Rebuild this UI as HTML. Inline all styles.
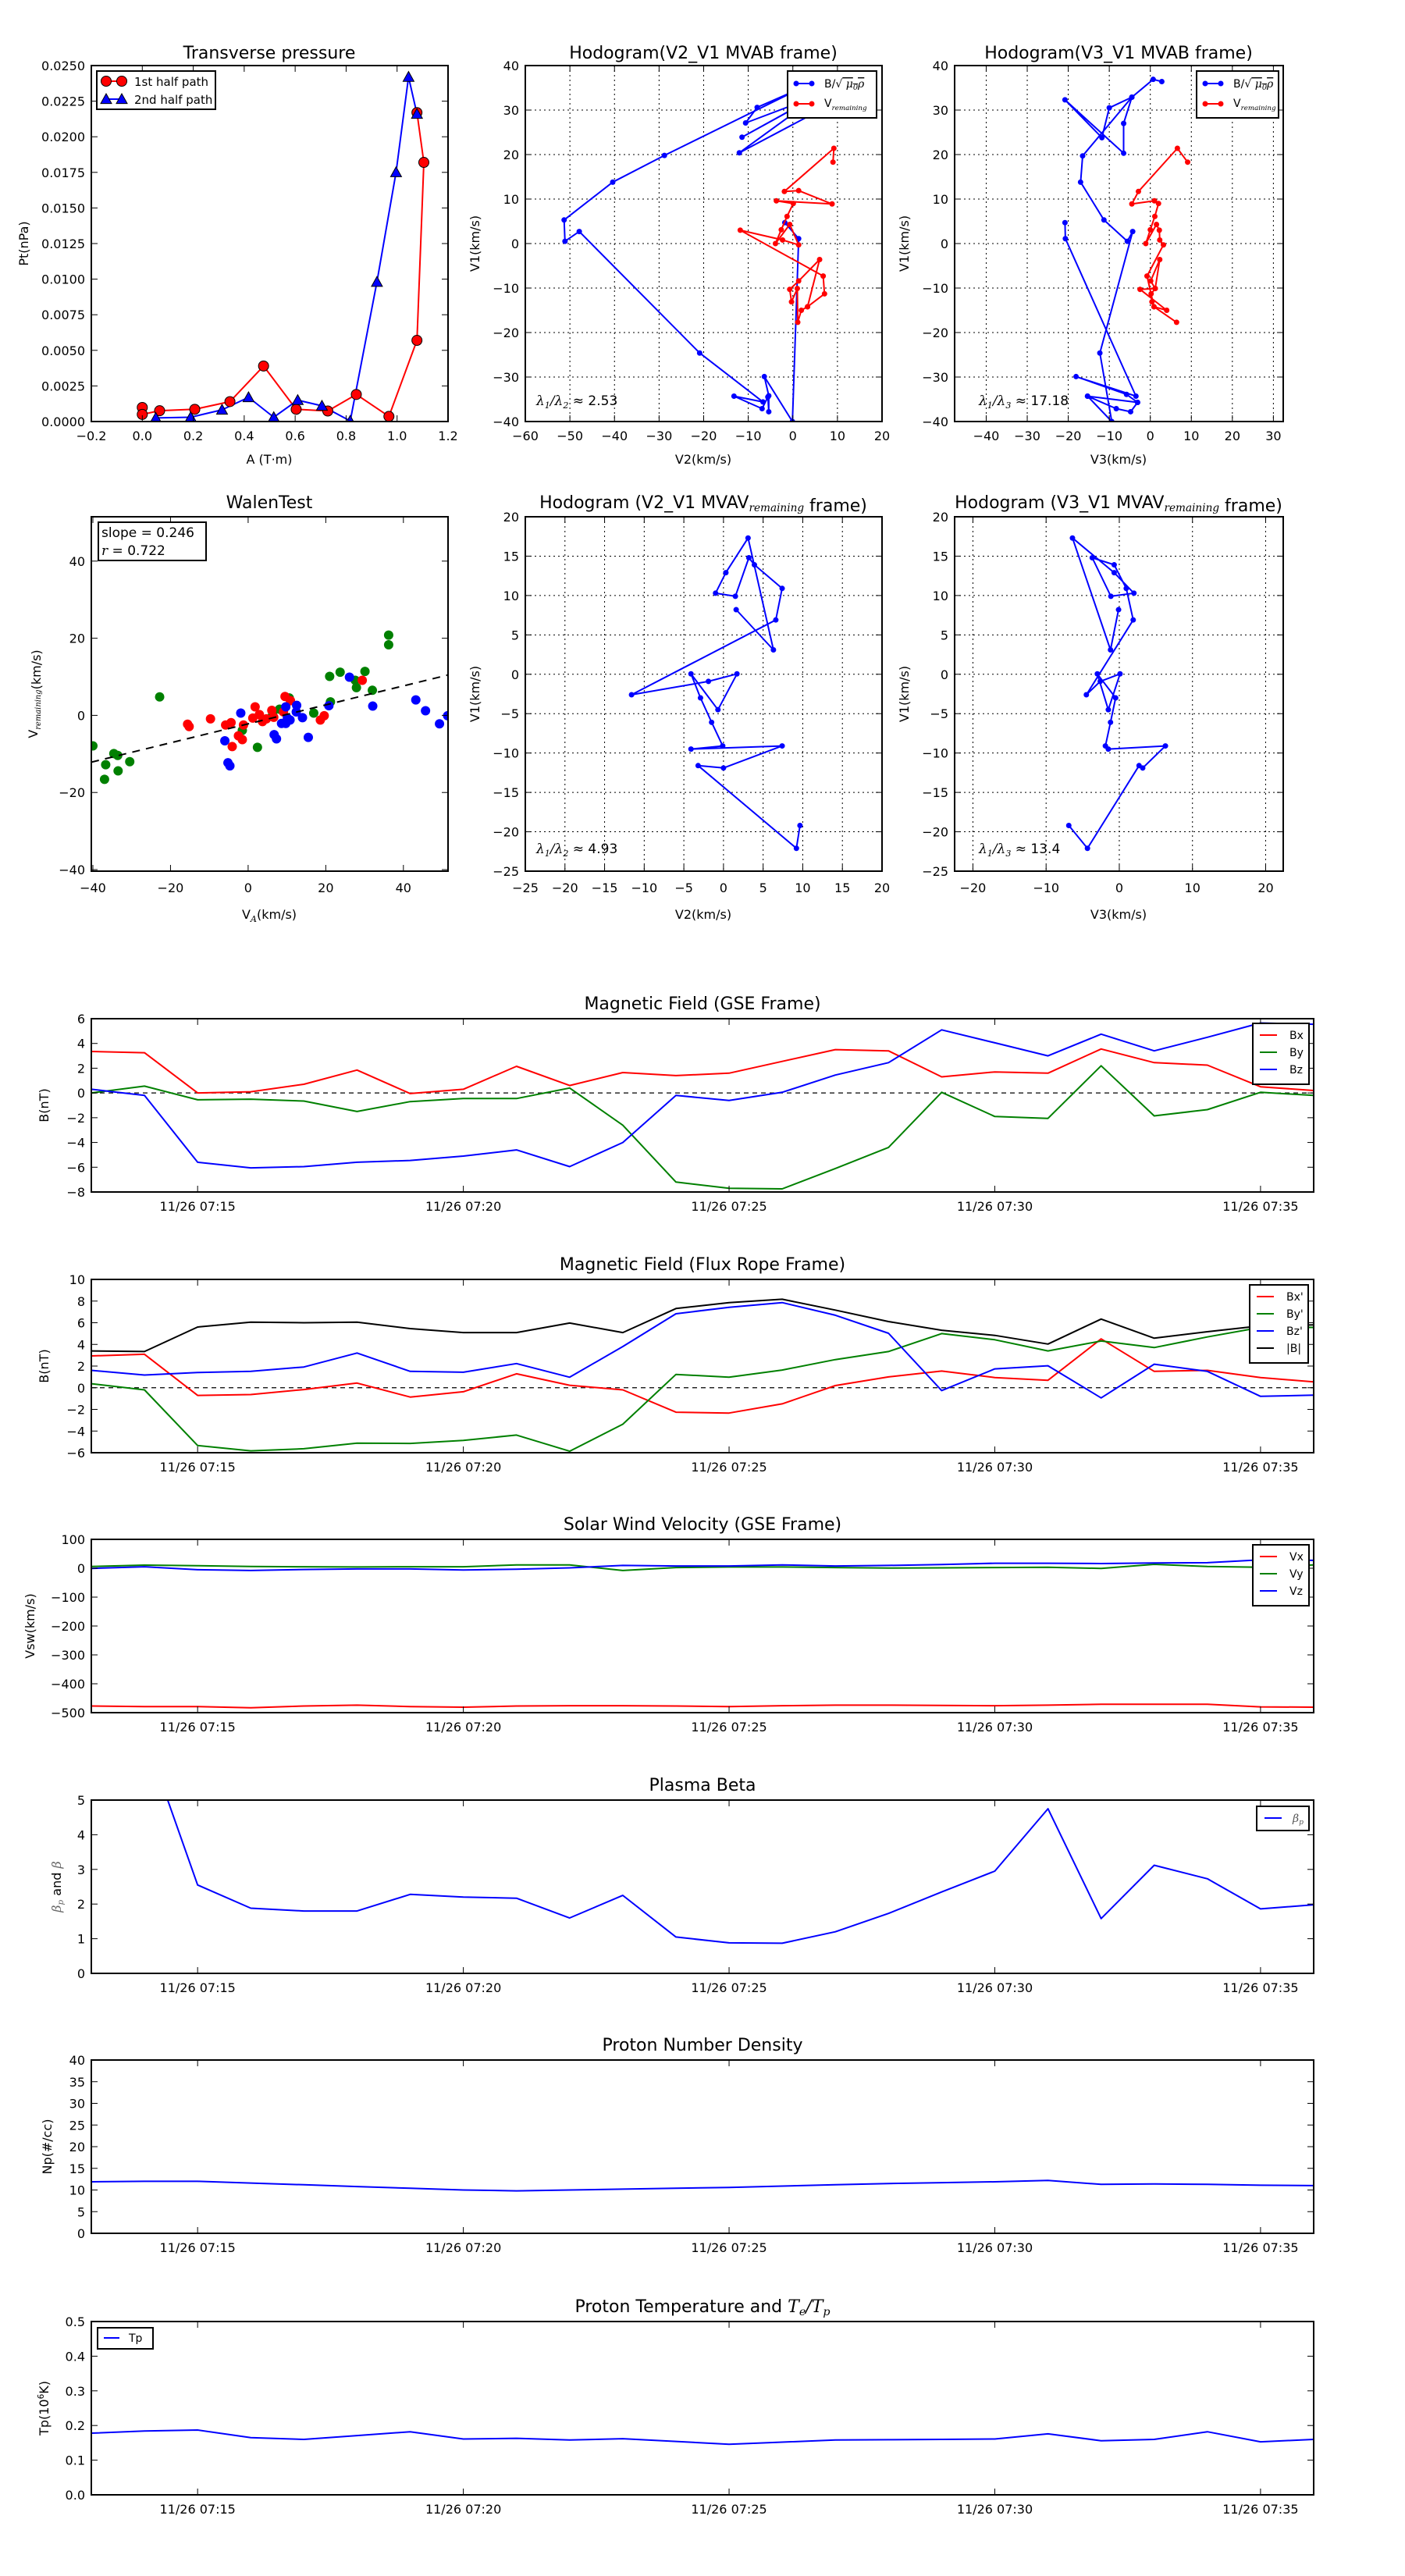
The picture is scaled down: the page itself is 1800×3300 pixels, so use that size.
<!DOCTYPE html>
<html><head><meta charset="utf-8"><title>Flux rope analysis</title>
<style>
html,body{margin:0;padding:0;background:#fff;}
svg{display:block;font-family:"DejaVu Sans","Liberation Sans",sans-serif;}
</style></head>
<body>
<svg id="fig" xmlns="http://www.w3.org/2000/svg" width="1800" height="3300" viewBox="0 0 1800 3300">
<rect x="0" y="0" width="1800" height="3300" fill="#fff"/>
<defs id="defs"></defs>
</svg>
<script>
// ---------------- data ----------------
const tp1A = [0, 0, 0.068, 0.206, 0.344, 0.476, 0.604, 0.728, 0.84, 0.968, 1.078, 1.105, 1.078];
const tp1P = [0.00099, 0.0005, 0.00076, 0.00086, 0.0014, 0.0039, 0.00086, 0.00074, 0.0019, 0.00036, 0.0057, 0.0182, 0.0217];
const tp2A = [0.053, 0.19, 0.313, 0.417, 0.516, 0.61, 0.705, 0.816, 0.921, 0.996, 1.045, 1.078];
const tp2P = [0.00025, 0.0003, 0.00082, 0.0017, 0.0003, 0.0015, 0.0011, 0.00004, 0.0098, 0.0175, 0.0242, 0.0216];
const h1BV2 = [-1.8, 1.3, -0.1, -6.4, -5.4, -5.4, -5.6, -6.9, -13.2, -6.7, -20.9, -47.9, -51.1, -51.3, -40.4, -28.8, 2, -8, -10.6, 5, -11.4, 6, -12, 8];
const h1BV1 = [4.7, 1.1, -40, -29.9, -34.2, -37.8, -34.5, -37.1, -34.3, -35.6, -24.6, 2.7, 0.5, 5.3, 13.8, 19.8, 35, 30.6, 27.1, 33, 23.9, 33.5, 20.4, 31];
const h1RV2 = [9, 9.2, -1.9, 1.3, 8.8, -3.7, 0.1, -1.3, -2.6, -3.9, -0.7, 1.3, -2.3, -11.8, 6.8, 7.1, 3.3, 1.9, 1.1, 1, -0.3, -0.7, 1.3, 6, 3.3];
const h1RV1 = [18.3, 21.4, 11.7, 11.9, 8.9, 9.6, 9.0, 6.1, 3.1, 0, 4.3, -0.3, 0.8, 3.0, -7.3, -11.3, -14.2, -15, -17.7, -10.1, -13.1, -10.3, -8.4, -3.6, -14.2];
const h2BV3 = [-20.8, -20.7, -3.5, -18.1, -5.8, -3.1, -15.3, -8.3, -4.8, -3.1, -15.3, -9.4, -12.3, -4.3, -5.6, -11.3, -17, -16.5, -4.5, -6.5, -6.5, -20.8, -11.8, -10, -4.5, 0.7, 2.8];
const h2BV1 = [4.7, 1.1, -34.3, -29.9, -33.9, -35.7, -34.3, -37.1, -37.8, -35.7, -34.3, -40, -24.6, 2.7, 0.5, 5.3, 13.8, 19.7, 32.9, 27, 20.3, 32.3, 23.8, 30.5, 32.9, 36.9, 36.4];
const h2RV3 = [9.1, 6.6, -2.9, -4.5, 1, 2, 1.1, 0, -1.1, 1.5, 2.2, 2.3, 3.2, -0.8, 0.9, 4, -2.5, 1.2, 0.1, 2.3, 1.2, 0.2, 0.4, 0.9, 6.4];
const h2RV1 = [18.3, 21.4, 11.7, 8.9, 9.6, 9, 6.1, 3.1, 0, 4.3, 3, 0.8, -0.3, -7.3, -14.2, -15, -10.3, -10.1, -8.4, -3.6, -10.1, -11.3, -13.1, -14.2, -17.7];
const walGx = [-40, -36.7, -37, -34.6, -33.6, -33.5, -30.5, -22.8, -1.5, 2.4, 6.3, 8.1, 10.6, 16.9, 21, 21.2, 23.7, 27.6, 27.9, 30.1, 32, 36.2, 36.2];
const walGy = [-7.9, -12.8, -16.6, -9.9, -10.4, -14.4, -12, 4.8, -3.9, -8.3, 0.2, 1.6, 4.5, 0.6, 10.1, 3.5, 11.2, 9.1, 7.2, 11.4, 6.5, 20.8, 18.3];
const walRx = [-15.6, -15.2, -9.7, -5.8, -4.4, -4.1, -2.5, -1.5, -1.2, 1.2, 1.8, 2.9, 3.7, 4.7, 6.1, 6.6, 9.5, 9.1, 10.9, 18.6, 19.6, 29.4];
const walRy = [-2.3, -2.9, -0.9, -2.5, -1.9, -8.1, -5.3, -6.3, -2.5, -0.7, 2.2, 0.2, -1.6, -0.9, 1.3, -0.5, 4.9, 0.9, 3.8, -1.2, -0.1, 9.1];
const walBx = [-1.9, -6, -5.2, -4.7, 6.7, 7.3, 8.6, 9.7, 9.7, 10.8, 10.1, 12.4, 12.5, 14, 15.5, 20.8, 26.1, 32.1, 43.2, 45.7, 49.3, 51.4];
const walBy = [0.6, -6.6, -12.3, -13.1, -5, -6.1, -2.1, -2.1, 2.2, -1.2, -0.7, 0.9, 2.6, -0.6, -5.7, 2.5, 9.9, 2.4, 4, 1.2, -2.2, -0.1];
const walSlope = 0.246;
const walIntercept = -2.2;
const mvV1 = [8.2, 3.1, 17.3, 12.9, 10.3, 9.9, 14.8, 13.9, 10.9, 6.9, -2.6, -0.9, 0.05, -4.5, 0.05, -3, -6.1, -9.1, -9.5, -9.1, -11.9, -11.6, -22.1, -19.2];
const mvV2 = [1.6, 6.3, 3.1, 0.3, -1, 1.5, 3.2, 3.9, 7.4, 6.6, -11.6, -1.9, 1.7, -0.7, -4.1, -2.9, -1.5, -0.1, -4.1, 7.4, 0, -3.2, 9.2, 9.65];
const mvV3 = [-0.1, -1.2, -6.4, -0.7, 2, -1.15, -3.7, -0.7, 0.95, 1.9, -4.5, -2.6, 0.1, -1.5, -3, -0.5, -1.2, -1.9, -1.5, 6.3, 3.2, 2.7, -4.35, -6.9];
const minutes = [13,14,15,16,17,18,19,20,21,22,23,24,25,26,27,28,29,30,31,32,33,34,35,36];
const tickMinutes = [15,20,25,30,35];
const tickLabels = ["11/26 07:15","11/26 07:20","11/26 07:25","11/26 07:30","11/26 07:35"];
const Bx = [3.35,3.25,0.0,0.1,0.7,1.85,-0.05,0.3,2.15,0.6,1.65,1.4,1.6,2.55,3.5,3.4,1.3,1.7,1.6,3.55,2.45,2.25,0.5,0.2];
const By = [0.0,0.55,-0.55,-0.5,-0.65,-1.5,-0.7,-0.45,-0.45,0.4,-2.6,-7.2,-7.7,-7.75,-6.1,-4.4,0.05,-1.9,-2.05,2.2,-1.85,-1.35,0.05,-0.2];
const Bz = [0.3,-0.2,-5.6,-6.05,-5.95,-5.6,-5.45,-5.1,-4.6,-5.95,-4.0,-0.2,-0.6,0.05,1.45,2.45,5.1,4.05,3.0,4.75,3.4,4.5,5.65,5.55];
const BxF = [2.94,3.09,-0.71,-0.63,-0.17,0.43,-0.86,-0.37,1.29,0.23,-0.2,-2.26,-2.34,-1.49,0.2,1.0,1.54,0.94,0.69,4.51,1.51,1.6,0.94,0.54];
const ByF = [0.37,-0.2,-5.34,-5.83,-5.63,-5.11,-5.14,-4.86,-4.37,-5.86,-3.37,1.23,0.97,1.63,2.6,3.34,5.0,4.43,3.4,4.31,3.71,4.69,5.57,5.57];
const BzF = [1.6,1.17,1.4,1.51,1.91,3.2,1.51,1.43,2.23,0.97,3.8,6.83,7.43,7.86,6.69,5.03,-0.26,1.74,2.03,-0.94,2.17,1.51,-0.8,-0.69];
const Bmag = [3.4,3.34,5.6,6.06,6.0,6.06,5.46,5.09,5.09,5.97,5.09,7.31,7.86,8.17,7.17,6.11,5.31,4.83,4.03,6.34,4.57,5.17,5.71,5.8];
const Vx = [-477,-479,-479,-483,-477,-474,-479,-481,-477,-476,-476,-477,-479,-476,-474,-474,-475,-476,-474,-471,-471,-471,-480,-481];
const Vy = [6,10.7,8.8,6,5.1,4.2,5.1,5.1,11.6,11.6,-7.9,2.3,4.2,4.2,2.3,0.5,1.4,2.3,3.3,-0.5,13.5,6,3.3,11.6];
const Vz = [-0.5,5.1,-5.1,-7.9,-4.2,-2.3,-2.3,-6,-3.3,1.4,9.8,7.9,7.9,11.6,7.9,9.8,12.6,17.2,17.2,16.3,18.1,19.1,29.3,27.4];
const betaP = [10,6.9,2.55,1.88,1.8,1.8,2.28,2.2,2.17,1.6,2.25,1.05,0.88,0.87,1.2,1.73,2.35,2.95,4.75,1.58,3.12,2.73,1.86,1.98];
const Np = [11.9,12.0,12.0,11.6,11.2,10.8,10.4,10.0,9.8,10.0,10.2,10.4,10.6,10.9,11.2,11.5,11.7,11.9,12.2,11.3,11.4,11.3,11.1,11.0];
const Tp = [0.178,0.184,0.187,0.165,0.16,0.171,0.182,0.161,0.163,0.158,0.162,0.154,0.146,0.152,0.158,0.159,0.160,0.161,0.176,0.156,0.160,0.182,0.153,0.160];

// ---------------- helpers ----------------
const NS = 'http://www.w3.org/2000/svg';
const svg = document.getElementById('fig');
const defs = document.getElementById('defs');
let clipN = 0;
function mk(parent, tag, attrs, name, text) {
  const el = document.createElementNS(NS, tag);
  for (const k in attrs) el.setAttribute(k, attrs[k]);
  
  
  if (text != null) el.textContent = text;
  parent.appendChild(el);
  return el;
}
function fmtNum(v, d) { const s = Math.abs(v).toFixed(d); return (v < -1e-12 ? '\u2212' : '') + s; }
function rng(a, b, s) { const r = []; for (let v = a; v <= b + s * 1e-6; v += s) r.push(+v.toFixed(6)); return r; }

function axes(o) {
  const g = mk(svg, 'g', {}, o.name);
  const sx = v => o.x0 + (v - o.xmin) / (o.xmax - o.xmin) * o.w;
  const sy = v => o.y0 + o.h - (v - o.ymin) / (o.ymax - o.ymin) * o.h;
  const id = 'clip' + (clipN++);
  const cp = mk(defs, 'clipPath', {id: id}, 'clip-region');
  mk(cp, 'rect', {x: o.x0, y: o.y0, width: o.w, height: o.h}, 'clip-rect');
  const grid = mk(g, 'g', {}, 'grid');
  const data = mk(g, 'g', {'clip-path': 'url(#' + id + ')'}, 'plot-area');
  const over = mk(g, 'g', {}, 'axes-overlay');
  const xt = o.xticks.filter(v => v >= o.xmin - 1e-9 && v <= o.xmax + 1e-9);
  const yt = o.yticks.filter(v => v >= o.ymin - 1e-9 && v <= o.ymax + 1e-9);
  if (o.grid) {
    xt.forEach(v => mk(grid, 'line', {x1: sx(v), x2: sx(v), y1: o.y0, y2: o.y0 + o.h, stroke: '#000', 'stroke-width': 1, 'stroke-dasharray': '2,4'}, 'x-grid-line'));
    yt.forEach(v => mk(grid, 'line', {x1: o.x0, x2: o.x0 + o.w, y1: sy(v), y2: sy(v), stroke: '#000', 'stroke-width': 1, 'stroke-dasharray': '2,4'}, 'y-grid-line'));
  }
  xt.forEach((v, i) => {
    mk(over, 'line', {x1: sx(v), x2: sx(v), y1: o.y0 + o.h, y2: o.y0 + o.h - 8, stroke: '#000', 'stroke-width': 1}, 'x-tick');
    mk(over, 'line', {x1: sx(v), x2: sx(v), y1: o.y0, y2: o.y0 + 8, stroke: '#000', 'stroke-width': 1}, 'x-tick-top');
    const lab = o.xlabels ? o.xlabels[i] : o.xfmt(v);
    mk(over, 'text', {x: sx(v), y: o.y0 + o.h + (o.xlabGap || 24), 'text-anchor': 'middle', 'font-size': 16}, 'x-tick-label', lab);
  });
  yt.forEach(v => {
    mk(over, 'line', {x1: o.x0, x2: o.x0 + 8, y1: sy(v), y2: sy(v), stroke: '#000', 'stroke-width': 1}, 'y-tick');
    mk(over, 'line', {x1: o.x0 + o.w, x2: o.x0 + o.w - 8, y1: sy(v), y2: sy(v), stroke: '#000', 'stroke-width': 1}, 'y-tick-right');
    mk(over, 'text', {x: o.x0 - 8, y: sy(v) + 6, 'text-anchor': 'end', 'font-size': 16}, 'y-tick-label', o.yfmt(v));
  });
  mk(over, 'rect', {x: o.x0, y: o.y0, width: o.w, height: o.h, fill: 'none', stroke: '#000', 'stroke-width': 2}, 'axes-frame');
  return {g, sx, sy, data, over};
}
function polyline(ax, xs, ys, color, name, w) {
  const pts = xs.map((x, i) => ax.sx(x).toFixed(1) + ',' + ax.sy(ys[i]).toFixed(1)).join(' ');
  return mk(ax.data, 'polyline', {points: pts, fill: 'none', stroke: color, 'stroke-width': w || 2, 'stroke-linejoin': 'round'}, name);
}
function dots(ax, xs, ys, color, r, name, edge) {
  xs.forEach((x, i) => {
    const a = {cx: ax.sx(x), cy: ax.sy(ys[i]), r: r, fill: color};
    if (edge) { a.stroke = '#000'; a['stroke-width'] = 1; }
    mk(ax.data, 'circle', a, name);
  });
}
function tris(ax, xs, ys, color, s, name) {
  xs.forEach((x, i) => {
    const cx = ax.sx(x), cy = ax.sy(ys[i]);
    mk(ax.data, 'polygon', {points: `${cx},${cy - s} ${cx - s},${cy + s * 0.8} ${cx + s},${cy + s * 0.8}`, fill: color, stroke: '#000', 'stroke-width': 1}, name);
  });
}
function title(x, y, html, name) {
  const t = mk(svg, 'text', {x: x, y: y, 'text-anchor': 'middle', 'font-size': 22}, name);
  t.innerHTML = html;
  return t;
}
function label(x, y, html, name, rot, size) {
  const a = {x: x, y: y, 'text-anchor': 'middle', 'font-size': size || 16};
  if (rot) a.transform = `rotate(-90 ${x} ${y})`;
  const t = mk(svg, 'text', a, name);
  t.innerHTML = html;
  return t;
}
const SUBREM = '<tspan font-family="DejaVu Serif, Liberation Serif, serif" font-style="italic" font-size="0.62em" dy="4">remaining</tspan><tspan dy="-4"></tspan>';
const SQRTLAB = 'B/\u221A<tspan font-family="DejaVu Serif, Liberation Serif, serif" font-style="italic" text-decoration="overline">\u00A0\u03BC<tspan font-size="0.7em" dy="3">0</tspan><tspan dy="-3">\u03C1</tspan></tspan>';

// ---------------- Transverse pressure ----------------
{
  const ax = axes({name: 'transverse-pressure-chart', x0: 117, y0: 84, w: 457, h: 456, xmin: -0.2, xmax: 1.2, ymin: 0, ymax: 0.025,
    xticks: rng(-0.2, 1.2, 0.2), yticks: rng(0, 0.025, 0.0025), xfmt: v => fmtNum(v, 1), yfmt: v => fmtNum(v, 4)});
  polyline(ax, tp1A, tp1P, '#f00', 'first-half-path-line');
  polyline(ax, tp2A, tp2P, '#00f', 'second-half-path-line');
  dots(ax, tp1A, tp1P, '#f00', 6.5, 'first-half-path-marker', true);
  tris(ax, tp2A, tp2P, '#00f', 7, 'second-half-path-marker');
  title(345, 75, 'Transverse pressure', 'transverse-pressure-title');
  label(345, 594, 'A (T\u00B7m)', 'x-axis-title');
  label(36, 312, 'Pt(nPa)', 'y-axis-title', true);
  const lg = mk(ax.over, 'g', {}, 'legend');
  mk(lg, 'rect', {x: 124, y: 91, width: 152, height: 49, fill: '#fff', stroke: '#000', 'stroke-width': 2}, 'legend-box');
  mk(lg, 'line', {x1: 136, x2: 156, y1: 104, y2: 104, stroke: '#f00', 'stroke-width': 2}, 'legend-line');
  mk(lg, 'circle', {cx: 136, cy: 104, r: 6.5, fill: '#f00', stroke: '#000'}, 'legend-marker');
  mk(lg, 'circle', {cx: 156, cy: 104, r: 6.5, fill: '#f00', stroke: '#000'}, 'legend-marker');
  mk(lg, 'text', {x: 172, y: 110, 'font-size': 15}, 'legend-entry', '1st half path');
  mk(lg, 'line', {x1: 136, x2: 156, y1: 127, y2: 127, stroke: '#00f', 'stroke-width': 2}, 'legend-line');
  mk(lg, 'polygon', {points: '136,120 129,132.6 143,132.6', fill: '#00f', stroke: '#000'}, 'legend-marker');
  mk(lg, 'polygon', {points: '156,120 149,132.6 163,132.6', fill: '#00f', stroke: '#000'}, 'legend-marker');
  mk(lg, 'text', {x: 172, y: 133, 'font-size': 15}, 'legend-entry', '2nd half path');
}

function hodoLegend(ax, x, y, w) {
  const lg = mk(ax.over, 'g', {}, 'legend');
  mk(lg, 'rect', {x: x, y: y, width: w, height: 60, fill: '#fff', stroke: '#000', 'stroke-width': 2}, 'legend-box');
  mk(lg, 'line', {x1: x + 11, x2: x + 31, y1: y + 16, y2: y + 16, stroke: '#00f', 'stroke-width': 2}, 'legend-line');
  mk(lg, 'circle', {cx: x + 11, cy: y + 16, r: 3.5, fill: '#00f'}, 'legend-marker');
  mk(lg, 'circle', {cx: x + 31, cy: y + 16, r: 3.5, fill: '#00f'}, 'legend-marker');
  const t1 = mk(lg, 'text', {x: x + 47, y: y + 21, 'font-size': 14}, 'legend-entry');
  t1.innerHTML = SQRTLAB;
  mk(lg, 'line', {x1: x + 11, x2: x + 31, y1: y + 42, y2: y + 42, stroke: '#f00', 'stroke-width': 2}, 'legend-line');
  mk(lg, 'circle', {cx: x + 11, cy: y + 42, r: 3.5, fill: '#f00'}, 'legend-marker');
  mk(lg, 'circle', {cx: x + 31, cy: y + 42, r: 3.5, fill: '#f00'}, 'legend-marker');
  const t2 = mk(lg, 'text', {x: x + 47, y: y + 46, 'font-size': 14}, 'legend-entry');
  t2.innerHTML = 'V' + SUBREM;
}
function lamText(x, y, sub, val) {
  const t = mk(svg, 'text', {x: x, y: y, 'font-size': 17}, 'eigenvalue-ratio');
  t.innerHTML = '<tspan font-family="DejaVu Serif, Liberation Serif, serif" font-style="italic">\u03BB<tspan font-size="0.65em" dy="4">1</tspan><tspan dy="-4">/\u03BB</tspan><tspan font-size="0.65em" dy="4">' + sub + '</tspan></tspan><tspan dy="-4"> \u2248 ' + val + '</tspan>';
}

{
  const ax = axes({name: 'hodogram-v2-v1-mvab', x0: 673, y0: 84, w: 457, h: 456, xmin: -60, xmax: 20, ymin: -40, ymax: 40, grid: true,
    xticks: rng(-60, 20, 10), yticks: rng(-40, 40, 10), xfmt: v => fmtNum(v, 0), yfmt: v => fmtNum(v, 0)});
  polyline(ax, h1BV2, h1BV1, '#00f', 'b-alfven-path');
  dots(ax, h1BV2, h1BV1, '#00f', 3.5, 'b-alfven-point');
  polyline(ax, h1RV2, h1RV1, '#f00', 'v-remaining-path');
  dots(ax, h1RV2, h1RV1, '#f00', 3.5, 'v-remaining-point');
  hodoLegend(ax, 1009, 91, 114);
  title(901, 75, 'Hodogram(V2_V1 MVAB frame)', 'hodogram-v2-v1-title');
  label(901, 594, 'V2(km/s)', 'x-axis-title');
  label(614, 312, 'V1(km/s)', 'y-axis-title', true);
  lamText(687, 519, '2', '2.53');
}
{
  const ax = axes({name: 'hodogram-v3-v1-mvab', x0: 1223, y0: 84, w: 421, h: 456, xmin: -47.7, xmax: 32.4, ymin: -40, ymax: 40, grid: true,
    xticks: rng(-40, 30, 10), yticks: rng(-40, 40, 10), xfmt: v => fmtNum(v, 0), yfmt: v => fmtNum(v, 0)});
  polyline(ax, h2BV3, h2BV1, '#00f', 'b-alfven-path');
  dots(ax, h2BV3, h2BV1, '#00f', 3.5, 'b-alfven-point');
  polyline(ax, h2RV3, h2RV1, '#f00', 'v-remaining-path');
  dots(ax, h2RV3, h2RV1, '#f00', 3.5, 'v-remaining-point');
  hodoLegend(ax, 1533, 91, 105);
  title(1433, 75, 'Hodogram(V3_V1 MVAB frame)', 'hodogram-v3-v1-title');
  label(1433, 594, 'V3(km/s)', 'x-axis-title');
  label(1164, 312, 'V1(km/s)', 'y-axis-title', true);
  lamText(1254, 519, '3', '17.18');
}
{
  const ax = axes({name: 'walen-test-chart', x0: 117, y0: 662, w: 457, h: 454, xmin: -40.4, xmax: 51.5, ymin: -40.4, ymax: 51.5,
    xticks: rng(-40, 40, 20), yticks: rng(-40, 40, 20), xfmt: v => fmtNum(v, 0), yfmt: v => fmtNum(v, 0), xlabGap: 27});
  dots(ax, walGx, walGy, '#008000', 6, 'walen-point-green');
  dots(ax, walRx, walRy, '#f00', 6, 'walen-point-red');
  dots(ax, walBx, walBy, '#00f', 6, 'walen-point-blue');
  const xa = -40.4, xb = 51.5;
  mk(ax.data, 'line', {x1: ax.sx(xa), y1: ax.sy(walSlope * xa + walIntercept), x2: ax.sx(xb), y2: ax.sy(walSlope * xb + walIntercept), stroke: '#000', 'stroke-width': 2, 'stroke-dasharray': '10,8'}, 'regression-line');
  mk(ax.over, 'rect', {x: 126, y: 669, width: 138, height: 49, fill: '#fff', stroke: '#000', 'stroke-width': 2}, 'stats-box');
  mk(ax.over, 'text', {x: 130, y: 688, 'font-size': 17}, 'slope-text', 'slope = 0.246');
  const rt = mk(ax.over, 'text', {x: 130, y: 711, 'font-size': 17}, 'r-text');
  rt.innerHTML = '<tspan font-family="DejaVu Serif, Liberation Serif, serif" font-style="italic">r</tspan> = 0.722';
  title(345, 651, 'WalenTest', 'walen-test-title');
  label(345, 1177, 'V<tspan font-family="DejaVu Serif, serif" font-style="italic" font-size="0.7em" dy="4">A</tspan><tspan dy="-4">(km/s)</tspan>', 'x-axis-title');
  label(48, 889, 'V' + SUBREM + '(km/s)', 'y-axis-title', true);
}
{
  const ax = axes({name: 'hodogram-v2-v1-mvav', x0: 673, y0: 662, w: 457, h: 454, xmin: -25, xmax: 20, ymin: -25, ymax: 20, grid: true,
    xticks: rng(-25, 20, 5), yticks: rng(-25, 20, 5), xfmt: v => fmtNum(v, 0), yfmt: v => fmtNum(v, 0), xlabGap: 27});
  polyline(ax, mvV2, mvV1, '#00f', 'hodogram-path');
  dots(ax, mvV2, mvV1, '#00f', 3.5, 'hodogram-point');
  title(901, 651, 'Hodogram (V2_V1 MVAV' + SUBREM + ' frame)', 'hodogram-mvav-v2-title');
  label(901, 1177, 'V2(km/s)', 'x-axis-title');
  label(614, 889, 'V1(km/s)', 'y-axis-title', true);
  lamText(687, 1093, '2', '4.93');
}
{
  const ax = axes({name: 'hodogram-v3-v1-mvav', x0: 1223, y0: 662, w: 421, h: 454, xmin: -22.5, xmax: 22.4, ymin: -25, ymax: 20, grid: true,
    xticks: rng(-20, 20, 10), yticks: rng(-25, 20, 5), xfmt: v => fmtNum(v, 0), yfmt: v => fmtNum(v, 0), xlabGap: 27});
  polyline(ax, mvV3, mvV1, '#00f', 'hodogram-path');
  dots(ax, mvV3, mvV1, '#00f', 3.5, 'hodogram-point');
  title(1433, 651, 'Hodogram (V3_V1 MVAV' + SUBREM + ' frame)', 'hodogram-mvav-v3-title');
  label(1433, 1177, 'V3(km/s)', 'x-axis-title');
  label(1164, 889, 'V1(km/s)', 'y-axis-title', true);
  lamText(1254, 1093, '3', '13.4');
}

function timeAxes(name, top, ymin, ymax, yticks, yfmt) {
  return axes({name: name, x0: 117, y0: top, w: 1566, h: 222, xmin: minutes[0], xmax: minutes[minutes.length - 1], ymin: ymin, ymax: ymax,
    xticks: tickMinutes, xlabels: tickLabels, yticks: yticks, xfmt: v => '', yfmt: yfmt, xlabGap: 24});
}
function tsLegend(ax, x, y, w, entries) {
  const lg = mk(ax.over, 'g', {}, 'legend');
  mk(lg, 'rect', {x: x, y: y, width: w, height: 12 + entries.length * 22, fill: '#fff', stroke: '#000', 'stroke-width': 2}, 'legend-box');
  entries.forEach((e, i) => {
    const cy = y + 15 + i * 22;
    mk(lg, 'line', {x1: x + 9, x2: x + 31, y1: cy, y2: cy, stroke: e[1], 'stroke-width': 2}, 'legend-line');
    const t = mk(lg, 'text', {x: x + 47, y: cy + 5, 'font-size': 14}, 'legend-entry');
    t.innerHTML = e[0];
  });
}
const mid = 900;
{
  const ax = timeAxes('magnetic-field-gse-chart', 1305, -8, 6, rng(-8, 6, 2), v => fmtNum(v, 0));
  mk(ax.data, 'line', {x1: 117, x2: 1683, y1: ax.sy(0), y2: ax.sy(0), stroke: '#000', 'stroke-width': 1.2, 'stroke-dasharray': '6,5'}, 'zero-line');
  polyline(ax, minutes, Bx, '#f00', 'bx-line');
  polyline(ax, minutes, By, '#008000', 'by-line');
  polyline(ax, minutes, Bz, '#00f', 'bz-line');
  tsLegend(ax, 1605, 1311, 72, [['Bx', '#f00'], ['By', '#008000'], ['Bz', '#00f']]);
  title(mid, 1293, 'Magnetic Field (GSE Frame)', 'magnetic-field-gse-title');
  label(62, 1416, 'B(nT)', 'y-axis-title', true);
}
{
  const ax = timeAxes('magnetic-field-flux-rope-chart', 1639, -6, 10, rng(-6, 10, 2), v => fmtNum(v, 0));
  mk(ax.data, 'line', {x1: 117, x2: 1683, y1: ax.sy(0), y2: ax.sy(0), stroke: '#000', 'stroke-width': 1.2, 'stroke-dasharray': '6,5'}, 'zero-line');
  polyline(ax, minutes, BxF, '#f00', 'bx-prime-line');
  polyline(ax, minutes, ByF, '#008000', 'by-prime-line');
  polyline(ax, minutes, BzF, '#00f', 'bz-prime-line');
  polyline(ax, minutes, Bmag, '#000', 'b-magnitude-line');
  tsLegend(ax, 1601, 1646, 75, [["Bx'", '#f00'], ["By'", '#008000'], ["Bz'", '#00f'], ['|B|', '#000']]);
  title(mid, 1627, 'Magnetic Field (Flux Rope Frame)', 'magnetic-field-flux-rope-title');
  label(62, 1750, 'B(nT)', 'y-axis-title', true);
}
{
  const ax = timeAxes('solar-wind-velocity-chart', 1972, -500, 100, rng(-500, 100, 100), v => fmtNum(v, 0));
  polyline(ax, minutes, Vx, '#f00', 'vx-line');
  polyline(ax, minutes, Vy, '#008000', 'vy-line');
  polyline(ax, minutes, Vz, '#00f', 'vz-line');
  tsLegend(ax, 1605, 1979, 72, [['Vx', '#f00'], ['Vy', '#008000'], ['Vz', '#00f']]);
  title(mid, 1960, 'Solar Wind Velocity (GSE Frame)', 'solar-wind-velocity-title');
  label(44, 2083, 'Vsw(km/s)', 'y-axis-title', true);
}
{
  const ax = timeAxes('plasma-beta-chart', 2306, 0, 5, rng(0, 5, 1), v => fmtNum(v, 0));
  polyline(ax, minutes, betaP, '#00f', 'beta-p-line');
  const lg = mk(ax.over, 'g', {}, 'legend');
  mk(lg, 'rect', {x: 1610, y: 2314, width: 67, height: 31, fill: '#fff', stroke: '#000', 'stroke-width': 2}, 'legend-box');
  mk(lg, 'line', {x1: 1620, x2: 1642, y1: 2329, y2: 2329, stroke: '#00f', 'stroke-width': 2}, 'legend-line');
  const t = mk(lg, 'text', {x: 1656, y: 2334, 'font-size': 14, 'font-family': 'DejaVu Serif, serif', 'font-style': 'italic', fill: '#555'}, 'legend-entry');
  t.innerHTML = '\u03B2<tspan font-size="0.65em" dy="3">p</tspan>';
  title(mid, 2294, 'Plasma Beta', 'plasma-beta-title');
  const yl = label(78, 2417, '', 'y-axis-title', true);
  yl.innerHTML = '<tspan font-family="DejaVu Serif, serif" font-style="italic" fill="#666">\u03B2<tspan font-size="0.65em" dy="3">p</tspan></tspan><tspan dy="-3"> and </tspan><tspan font-family="DejaVu Serif, serif" font-style="italic" fill="#666">\u03B2</tspan>';
}
{
  const ax = timeAxes('proton-density-chart', 2639, 0, 40, rng(0, 40, 5), v => fmtNum(v, 0));
  polyline(ax, minutes, Np, '#00f', 'np-line');
  title(mid, 2627, 'Proton Number Density', 'proton-density-title');
  label(66, 2750, 'Np(#/cc)', 'y-axis-title', true);
}
{
  const ax = timeAxes('proton-temperature-chart', 2974, 0, 0.5, rng(0, 0.5, 0.1), v => fmtNum(v, 1));
  polyline(ax, minutes, Tp, '#00f', 'tp-line');
  const lg = mk(ax.over, 'g', {}, 'legend');
  mk(lg, 'rect', {x: 125, y: 2982, width: 71, height: 27, fill: '#fff', stroke: '#000', 'stroke-width': 2}, 'legend-box');
  mk(lg, 'line', {x1: 133, x2: 153, y1: 2995, y2: 2995, stroke: '#00f', 'stroke-width': 2}, 'legend-line');
  mk(lg, 'text', {x: 165, y: 3000, 'font-size': 14}, 'legend-entry', 'Tp');
  title(mid, 2962, 'Proton Temperature and <tspan font-family="DejaVu Serif, serif" font-style="italic">T<tspan font-size="0.65em" dy="4">e</tspan><tspan dy="-4">/T</tspan><tspan font-size="0.65em" dy="4">p</tspan></tspan>', 'proton-temperature-title');
  label(62, 3085, 'Tp(10<tspan font-size="0.65em" dy="-6">6</tspan><tspan dy="6">K)</tspan>', 'y-axis-title', true);
}
</script>
</body></html>
